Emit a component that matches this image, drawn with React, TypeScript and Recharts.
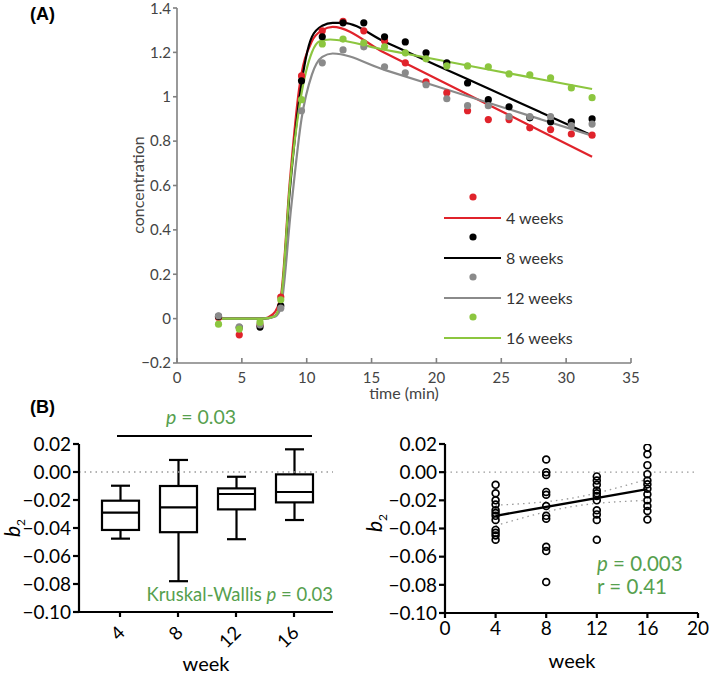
import {
  ComposedChart,
  Scatter,
  Line,
  Bar,
  XAxis,
  YAxis,
  ReferenceLine,
} from "recharts";

// ---- panel A: concentration curves ----
const TIMES = [3.2, 4.8, 6.4, 8.0, 9.6, 11.2, 12.8, 14.4, 16.0, 17.6, 19.2, 20.8, 22.4, 24.0, 25.6, 27.2, 28.8, 30.4, 32.0];

const RED_PTS = [0.005, -0.073, -0.03, 0.097, 1.094, 1.297, 1.34, 1.297, 1.252, 1.153, 1.067, 1.018, 0.937, 0.897, 0.897, 0.86, 0.852, 0.832, 0.827];
const BLACK_PTS = [0.01, -0.04, -0.038, 0.058, 1.072, 1.27, 1.333, 1.333, 1.27, 1.247, 1.198, 1.153, 1.062, 0.987, 0.955, 0.905, 0.887, 0.887, 0.9];
const GRAY_PTS = [0.013, -0.037, -0.028, 0.047, 0.937, 1.153, 1.211, 1.225, 1.135, 1.108, 1.054, 0.991, 0.96, 0.96, 0.91, 0.91, 0.91, 0.87, 0.877];
const GREEN_PTS = [-0.025, -0.047, -0.016, 0.085, 0.987, 1.238, 1.26, 1.243, 1.225, 1.198, 1.171, 1.139, 1.139, 1.135, 1.103, 1.099, 1.085, 1.04, 0.996];

// fitted curves, knots
const RED_FIT_T = [3.2, 6.6, 7.4, 8.0, 8.7, 9.4, 10.4, 11.2, 12.0, 16.0, 20.0, 24.0, 28.0, 32.0];
const RED_FIT_V = [0, 0, 0.02, 0.1, 0.62, 1.03, 1.25, 1.3, 1.315, 1.198, 1.081, 0.964, 0.847, 0.73];
const BLACK_FIT_T = [3.2, 6.6, 7.5, 8.0, 8.7, 9.5, 10.4, 11.2, 12.0, 12.8, 16.0, 20.0, 24.0, 28.0, 32.0];
const BLACK_FIT_V = [0, 0, 0.01, 0.07, 0.58, 1.02, 1.27, 1.32, 1.333, 1.333, 1.248, 1.142, 1.037, 0.931, 0.825];
const GRAY_FIT_T = [3.2, 6.6, 7.6, 8.0, 8.8, 9.6, 10.4, 11.2, 12.0, 16.0, 20.0, 24.0, 28.0, 32.0];
const GRAY_FIT_V = [0, 0, 0.01, 0.05, 0.5, 0.9, 1.1, 1.18, 1.195, 1.121, 1.047, 0.973, 0.899, 0.825];
const GREEN_FIT_T = [3.2, 6.6, 7.5, 8.0, 8.7, 9.5, 10.4, 11.0, 11.8, 16.0, 20.0, 24.0, 28.0, 32.0];
const GREEN_FIT_V = [0, 0, 0.01, 0.08, 0.6, 0.98, 1.2, 1.25, 1.258, 1.212, 1.168, 1.123, 1.079, 1.035];

const SERIES_A = [
  { name: "4 weeks", color: "#e0232b", pts: RED_PTS, fitT: RED_FIT_T, fitV: RED_FIT_V },
  { name: "8 weeks", color: "#000000", pts: BLACK_PTS, fitT: BLACK_FIT_T, fitV: BLACK_FIT_V },
  { name: "12 weeks", color: "#8a8a8a", pts: GRAY_PTS, fitT: GRAY_FIT_T, fitV: GRAY_FIT_V },
  { name: "16 weeks", color: "#8cc63f", pts: GREEN_PTS, fitT: GREEN_FIT_T, fitV: GREEN_FIT_V },
];

const A_X_TICKS = [0, 5, 10, 15, 20, 25, 30, 35];
const A_Y_TICKS = [-0.2, 0, 0.2, 0.4, 0.6, 0.8, 1, 1.2, 1.4];

// ---- panel B left: box plot of b2 ----
const WEEKS = ["4", "8", "12", "16"];
const BOX_MIN = [-0.0476, -0.078, -0.048, -0.0343];
const BOX_Q1 = [-0.0414, -0.043, -0.0267, -0.0217];
const BOX_MED = [-0.029, -0.0252, -0.0157, -0.0143];
const BOX_Q3 = [-0.0205, -0.010, -0.0117, -0.0017];
const BOX_MAX = [-0.0098, 0.0086, -0.0034, 0.0162];

// ---- panel B right: b2 per animal ----
const W4 = [-0.009, -0.015, -0.02, -0.023, -0.027, -0.029, -0.031, -0.034, -0.041, -0.043, -0.045, -0.048];
const W8 = [0.009, 0.0, -0.002, -0.014, -0.016, -0.024, -0.031, -0.033, -0.053, -0.056, -0.078];
const W12 = [-0.003, -0.006, -0.009, -0.013, -0.015, -0.017, -0.02, -0.027, -0.03, -0.034, -0.048];
const W16 = [0.0175, 0.0127, 0.005, -0.0014, -0.006, -0.0086, -0.0117, -0.0157, -0.02, -0.024, -0.0276, -0.0336];
const WEEK_NUM = [4, 8, 12, 16];

const REG_X = [4, 16];
const REG_Y = [-0.031, -0.012];
const CI_X = [4, 10, 16];
const CI_UPPER = [-0.0235, -0.0185, -0.005];
const CI_LOWER = [-0.038, -0.0245, -0.02];

const B_Y_TICKS = [-0.1, -0.08, -0.06, -0.04, -0.02, 0, 0.02];
const B_X_TICKS = [0, 4, 8, 12, 16, 20];

const FONT = "Lato, 'Open Sans', sans-serif";
const GREEN_TXT = "#56a04e";

const zip = (xs: number[], ys: number[]) => xs.map((t, i) => ({ t, v: ys[i] }));

const fmtA = (v: number) => {
  if (v === 0) return "0";
  const s = String(Math.round(v * 10) / 10);
  return s.replace("-", "\u2212");
};
const fmtB = (v: number) => v.toFixed(2).replace("-", "\u2212");

function dot(color: string) {
  return (p: any) => <circle cx={p.cx} cy={p.cy} r={3.6} fill={color} stroke="none" />;
}

function openDot(p: any) {
  return <circle cx={p.cx} cy={p.cy} r={3.4} fill="none" stroke="#000" strokeWidth={1.7} />;
}

function BoxShape(props: any) {
  const { x, y, width, height, payload } = props;
  const top = Math.min(y, y + height);
  const bottom = Math.max(y, y + height);
  const lo = payload.min;
  const hi = payload.max;
  const px = (v: number) => top + ((hi - v) / (hi - lo)) * (bottom - top);
  const cx = x + width / 2;
  const cap = 9.5;
  return (
    <g stroke="#000" strokeWidth={2.2} fill="none">
      <line x1={cx} x2={cx} y1={px(hi)} y2={px(payload.q3)} />
      <line x1={cx} x2={cx} y1={px(payload.q1)} y2={px(lo)} />
      <line x1={cx - cap} x2={cx + cap} y1={px(hi)} y2={px(hi)} />
      <line x1={cx - cap} x2={cx + cap} y1={px(lo)} y2={px(lo)} />
      <rect x={x} y={px(payload.q3)} width={width} height={px(payload.q1) - px(payload.q3)} fill="#fff" />
      <line x1={x} x2={x + width} y1={px(payload.med)} y2={px(payload.med)} />
    </g>
  );
}

function RotTick(props: any) {
  const { x, y, payload } = props;
  return (
    <text
      x={x + 6}
      y={y + 15}
      transform={`rotate(-45 ${x + 6} ${y + 15})`}
      textAnchor="end"
      fontFamily={FONT}
      fontSize={18.5}
      fill="#000"
    >
      {payload.value}
    </text>
  );
}

const abs = (left: number, top: number, extra: any = {}) => ({
  position: "absolute" as const,
  left,
  top,
  fontFamily: FONT,
  whiteSpace: "nowrap" as const,
  lineHeight: 1,
  ...extra,
});

export default function App() {
  const boxData = WEEKS.map((w, i) => ({
    week: w,
    range: [BOX_MIN[i], BOX_MAX[i]],
    min: BOX_MIN[i],
    q1: BOX_Q1[i],
    med: BOX_MED[i],
    q3: BOX_Q3[i],
    max: BOX_MAX[i],
  }));
  const weekSets = [W4, W8, W12, W16];
  const scatterB = weekSets.flatMap((vals, i) => vals.map((y) => ({ x: WEEK_NUM[i], y })));
  const regData = REG_X.map((x, i) => ({ x, y: REG_Y[i] }));
  const ciUp = CI_X.map((x, i) => ({ x, y: CI_UPPER[i] }));
  const ciLo = CI_X.map((x, i) => ({ x, y: CI_LOWER[i] }));

  const axisA = { stroke: "#808080", strokeWidth: 1.6 };
  const tickA = { fill: "#444", fontSize: 15, fontFamily: FONT };
  const axisB = { stroke: "#000", strokeWidth: 2.2 };
  const tickB = { fill: "#000", fontSize: 19, fontFamily: FONT };

  return (
    <div style={{ position: "absolute", left: 0, top: 0, width: 709, height: 676, background: "#fff" }}>
      {/* Panel A */}
      <div style={{ position: "absolute", left: 0, top: 0 }}>
        <ComposedChart width={709} height={400} margin={{ top: 8, right: 78, bottom: 0, left: 0 }}>
          <XAxis
            dataKey="t"
            type="number"
            domain={[0, 35]}
            ticks={A_X_TICKS}
            axisLine={axisA}
            tickLine={axisA}
            tickSize={-5}
            tickMargin={14}
            tick={tickA}
            height={37}
            allowDataOverflow
          />
          <YAxis
            dataKey="v"
            type="number"
            domain={[-0.2, 1.4]}
            ticks={A_Y_TICKS}
            axisLine={axisA}
            tickLine={axisA}
            tickSize={4}
            tickMargin={2}
            tick={tickA}
            tickFormatter={fmtA}
            width={177}
            allowDataOverflow
          />
          {SERIES_A.map((s) => (
            <Scatter
              key={s.name + "-pts"}
              data={zip(TIMES, s.pts)}
              dataKey="v"
              fill={s.color}
              shape={dot(s.color)}
              isAnimationActive={false}
            />
          ))}
          {SERIES_A.map((s) => (
            <Line
              key={s.name + "-fit"}
              data={zip(s.fitT, s.fitV)}
              dataKey="v"
              type="monotone"
              stroke={s.color}
              strokeWidth={2.2}
              dot={false}
              isAnimationActive={false}
            />
          ))}
        </ComposedChart>
      </div>
      <div style={abs(30, 5, { fontFamily: "'Liberation Sans', Arial, sans-serif", fontWeight: 700, fontSize: 18 })}>(A)</div>
      <div
        style={abs(138, 185, {
          fontSize: 16,
          color: "#444",
          transform: "translate(-50%, -50%) rotate(-90deg)",
        })}
      >
        concentration
      </div>
      <div style={abs(404, 393, { fontSize: 16, color: "#444", transform: "translate(-50%, -50%)" })}>time (min)</div>
      {/* legend */}
      <svg style={{ position: "absolute", left: 440, top: 185 }} width={70} height={160}>
        {SERIES_A.map((s, i) => (
          <g key={s.name}>
            <circle cx={33} cy={12 + i * 40} r={3.6} fill={s.color} />
            <line x1={4} x2={61} y1={33 + i * 40} y2={33 + i * 40} stroke={s.color} strokeWidth={2.2} />
          </g>
        ))}
      </svg>
      {SERIES_A.map((s, i) => (
        <div
          key={s.name}
          style={abs(506, 218 + i * 40, { fontSize: 16, color: "#333", transform: "translateY(-50%)" })}
        >
          {s.name}
        </div>
      ))}

      {/* Panel B left */}
      <div style={{ position: "absolute", left: 0, top: 400 }}>
        <ComposedChart width={350} height={276} data={boxData} margin={{ top: 44, right: 17, bottom: 0, left: 0 }}>
          <ReferenceLine y={0} stroke="#9a9a9a" strokeDasharray="1.5 4" strokeWidth={1.3} />
          <XAxis
            dataKey="week"
            padding={{ left: 12, right: 10 }}
            axisLine={axisB}
            tickLine={axisB}
            tickSize={5}
            tick={<RotTick />}
            height={64}
            interval={0}
          />
          <YAxis
            type="number"
            domain={[-0.1, 0.02]}
            ticks={B_Y_TICKS}
            axisLine={axisB}
            tickLine={axisB}
            tickSize={6}
            tickMargin={2}
            tick={tickB}
            tickFormatter={fmtB}
            width={79}
            allowDataOverflow
          />
          <Bar dataKey="range" barSize={37} shape={<BoxShape />} isAnimationActive={false} />
        </ComposedChart>
      </div>
      <div style={abs(30, 398, { fontFamily: "'Liberation Sans', Arial, sans-serif", fontWeight: 700, fontSize: 18 })}>(B)</div>
      <div style={{ position: "absolute", left: 117, top: 435, width: 195, height: 2, background: "#000" }} />
      <div style={abs(201, 417, { fontSize: 19.5, color: GREEN_TXT, transform: "translate(-50%, -50%)" })}>
        <i>p</i> = 0.03
      </div>
      <div style={abs(333, 594, { fontSize: 18.5, color: GREEN_TXT, transform: "translate(-100%, -50%)" })}>
        Kruskal-Wallis <i>p</i> = 0.03
      </div>
      <div style={abs(206, 663, { fontSize: 20, color: "#000", transform: "translate(-50%, -50%)" })}>week</div>
      <div
        style={abs(14, 528, { fontSize: 21, color: "#000", transform: "translate(-50%, -50%) rotate(-90deg)" })}
      >
        <i>b</i>
        <sub style={{ fontSize: 12 }}>2</sub>
      </div>

      {/* Panel B right */}
      <div style={{ position: "absolute", left: 350, top: 400 }}>
        <ComposedChart width={359} height={276} margin={{ top: 44, right: 11, bottom: 0, left: 0 }}>
          <ReferenceLine y={0} stroke="#9a9a9a" strokeDasharray="1.5 4" strokeWidth={1.3} />
          <XAxis
            dataKey="x"
            type="number"
            domain={[0, 20]}
            ticks={B_X_TICKS}
            axisLine={axisB}
            tickLine={axisB}
            tickSize={5}
            tickMargin={4}
            tick={tickB}
            height={63}
            allowDataOverflow
          />
          <YAxis
            dataKey="y"
            type="number"
            domain={[-0.1, 0.02]}
            ticks={B_Y_TICKS}
            axisLine={axisB}
            tickLine={axisB}
            tickSize={6}
            tickMargin={2}
            tick={tickB}
            tickFormatter={fmtB}
            width={95}
            allowDataOverflow
          />
          <Line data={ciUp} dataKey="y" type="monotone" stroke="#9a9a9a" strokeDasharray="1.5 4" strokeWidth={1.3} dot={false} isAnimationActive={false} />
          <Line data={ciLo} dataKey="y" type="monotone" stroke="#9a9a9a" strokeDasharray="1.5 4" strokeWidth={1.3} dot={false} isAnimationActive={false} />
          <Scatter data={scatterB} dataKey="y" shape={openDot} isAnimationActive={false} />
          <Line data={regData} dataKey="y" type="linear" stroke="#000" strokeWidth={2.4} dot={false} isAnimationActive={false} />
        </ComposedChart>
      </div>
      <div style={abs(597, 563, { fontSize: 20.5, color: GREEN_TXT, transform: "translateY(-50%)" })}>
        <i>p</i> = 0.003
      </div>
      <div style={abs(597, 586, { fontSize: 20.5, color: GREEN_TXT, transform: "translateY(-50%)" })}>r = 0.41</div>
      <div style={abs(572, 660, { fontSize: 20, color: "#000", transform: "translate(-50%, -50%)" })}>week</div>
      <div
        style={abs(376, 523, { fontSize: 21, color: "#000", transform: "translate(-50%, -50%) rotate(-90deg)" })}
      >
        <i>b</i>
        <sub style={{ fontSize: 12 }}>2</sub>
      </div>
    </div>
  );
}
